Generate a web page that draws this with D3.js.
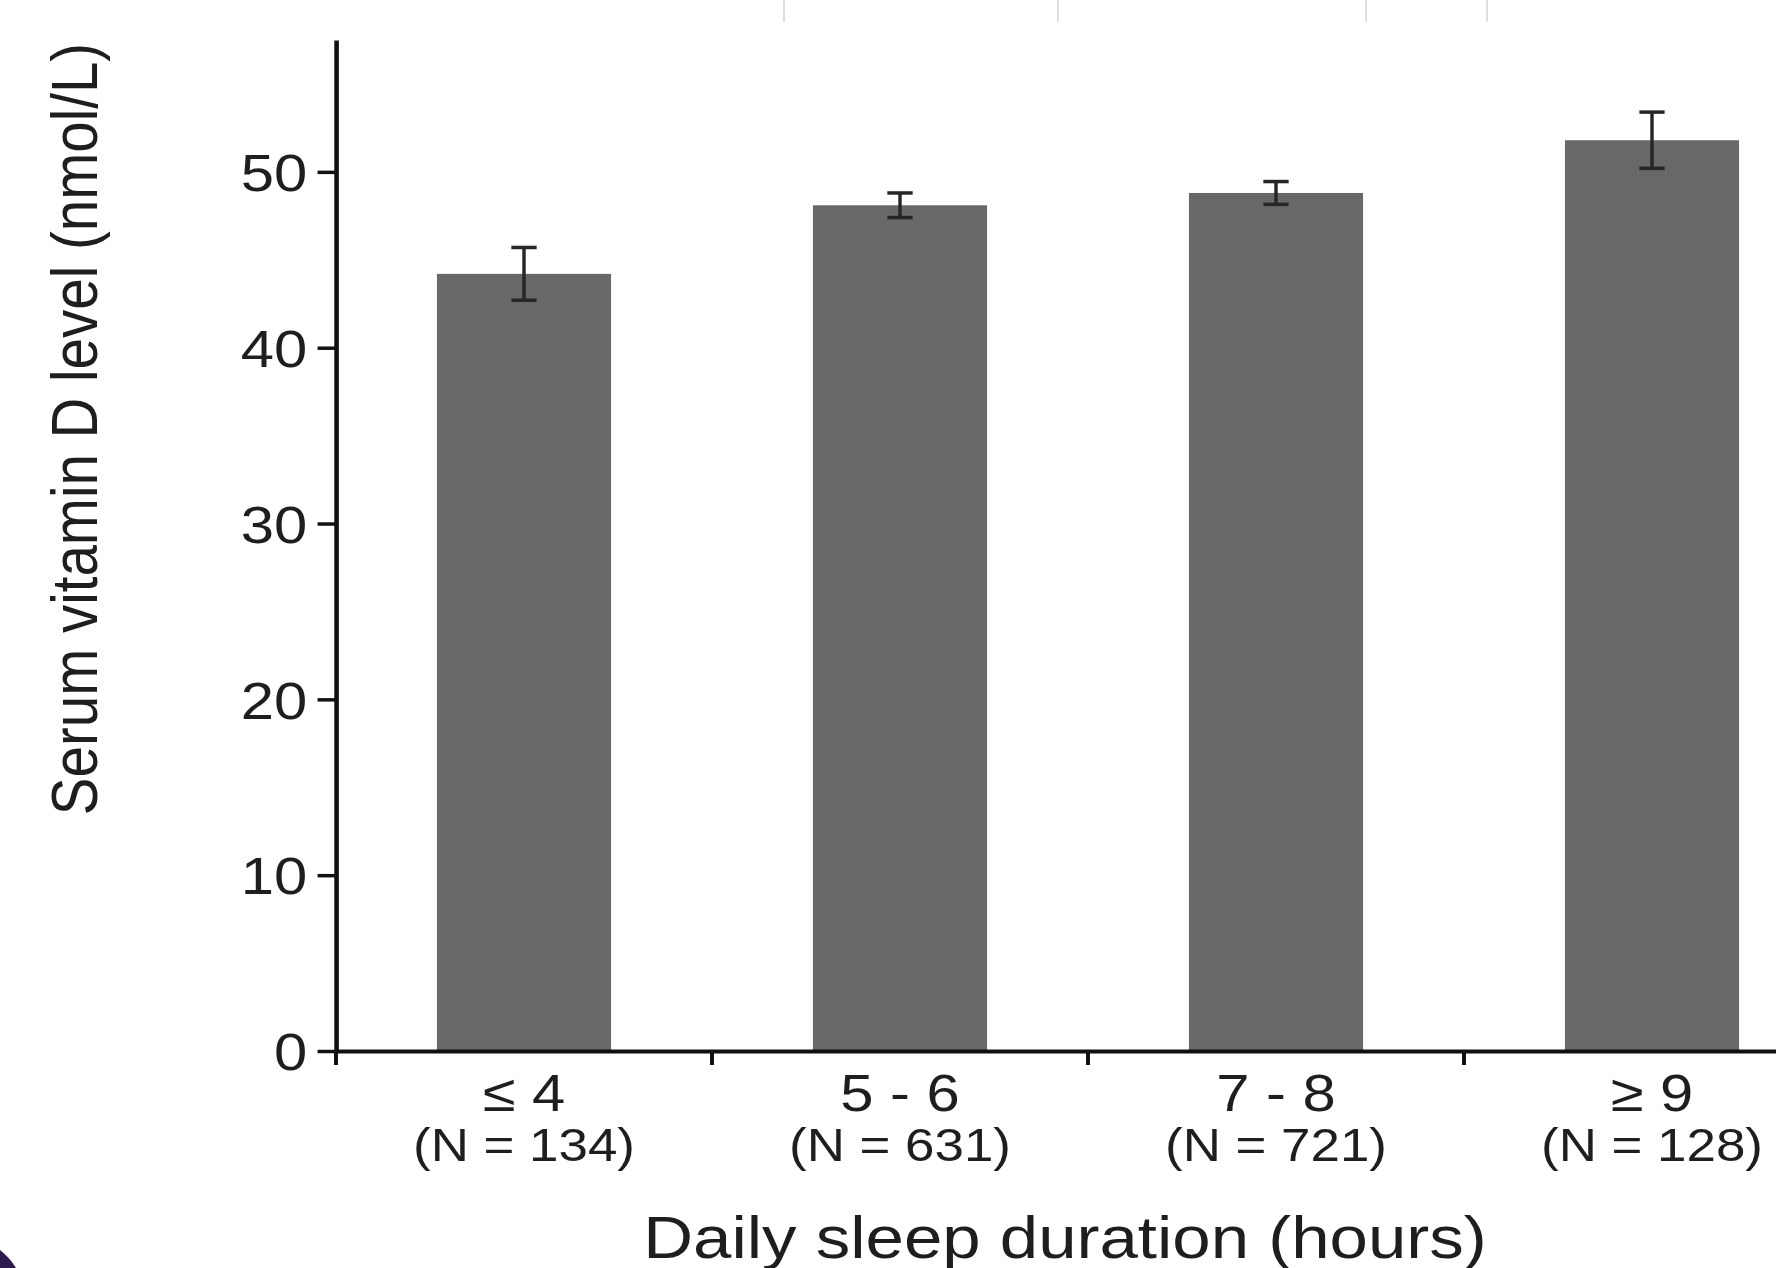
<!DOCTYPE html>
<html>
  <head>
    <title>Serum vitamin D by daily sleep duration</title>
    <script src="https://d3js.org/d3.v7.min.js"></script>
    <style>
      html, body { margin: 0; padding: 0; background: #fff; }
      svg { display: block; }
      .axis-label { font-family: "Liberation Sans", Arial, Helvetica, sans-serif; fill: #1e1e1e; }
    </style>
  </head>
  <body>
    <div id="chart"></div>
    <script>
      // Data
      const categories = ["≤ 4", "5 - 6", "7 - 8", "≥ 9"];
      const counts = [134, 631, 721, 128];
      const means = [44.2, 48.1, 48.8, 51.8];
      const errors = [1.5, 0.7, 0.65, 1.6];
      const yTicks = [0, 10, 20, 30, 40, 50];

      // the source figure is stretched sideways, so draw in a narrower box and stretch it
      const stretch = 1.15;
      const fullW = 1776, fullH = 1268;
      const W = fullW / stretch, H = fullH;
      const font = '"Liberation Sans", Arial, Helvetica, sans-serif';

      const svg = d3
        .select("#chart")
        .append("svg")
        .attr("width", fullW)
        .attr("height", fullH)
        .attr("viewBox", `0 0 ${W} ${H}`)
        .attr("preserveAspectRatio", "none");

      // scales (band range runs off the right edge, as in the cropped original)
      const x0 = 336 / stretch;
      const step = 376 / stretch;
      const x = d3
        .scaleBand()
        .domain(categories)
        .range([x0, x0 + step * categories.length])
        .padding(0);
      const y = d3.scaleLinear().domain([0, 57.5]).range([1051, 40]);
      const barW = x.bandwidth() * 0.463;

      // bars
      svg
        .selectAll("rect.bar")
        .data(categories)
        .enter()
        .append("rect")
        .attr("class", "bar")
        .attr("x", (d) => x(d) + (x.bandwidth() - barW) / 2)
        .attr("y", (d, i) => y(means[i]))
        .attr("width", barW)
        .attr("height", (d, i) => y(0) - y(means[i]))
        .attr("fill", "#686868");

      // error bars
      const capW = 22;
      const err = svg
        .selectAll("g.err")
        .data(categories)
        .enter()
        .append("g")
        .attr("class", "err")
        .attr("stroke", "#262626")
        .attr("stroke-width", 3);
      err
        .append("line")
        .attr("x1", (d) => x(d) + x.bandwidth() / 2)
        .attr("x2", (d) => x(d) + x.bandwidth() / 2)
        .attr("y1", (d, i) => y(means[i] + errors[i]))
        .attr("y2", (d, i) => y(means[i] - errors[i]));
      err
        .selectAll("line.cap")
        .data((d, i) => [
          { c: d, v: means[i] + errors[i] },
          { c: d, v: means[i] - errors[i] }
        ])
        .enter()
        .append("line")
        .attr("class", "cap")
        .attr("stroke-width", 3.5)
        .attr("x1", (d) => x(d.c) + x.bandwidth() / 2 - capW / 2)
        .attr("x2", (d) => x(d.c) + x.bandwidth() / 2 + capW / 2)
        .attr("y1", (d) => y(d.v))
        .attr("y2", (d) => y(d.v));

      // y axis
      const yAxis = svg
        .append("g")
        .attr("transform", `translate(${x0}, 0)`)
        .call(d3.axisLeft(y).tickValues(yTicks).tickSize(16).tickSizeOuter(0).tickPadding(9));
      yAxis.select(".domain").attr("stroke", "#111").attr("stroke-width", 4);
      yAxis.selectAll(".tick line").attr("stroke", "#111").attr("stroke-width", 3.5);
      yAxis
        .selectAll(".tick text")
        .attr("font-family", font)
        .attr("font-size", 52)
        .attr("fill", "#1e1e1e")
        .attr("dy", "0.36em");

      // x axis
      const xAxis = svg
        .append("g")
        .attr("transform", `translate(0, ${y(0)})`)
        .call(d3.axisBottom(x).tickSize(0).tickSizeOuter(0).tickFormat(""));
      xAxis.select(".domain").attr("stroke", "#111").attr("stroke-width", 4);

      // tick marks between the groups
      svg
        .selectAll("line.xtick")
        .data(categories)
        .enter()
        .append("line")
        .attr("class", "xtick")
        .attr("x1", (d) => x(d))
        .attr("x2", (d) => x(d))
        .attr("y1", y(0))
        .attr("y2", y(0) + 14)
        .attr("stroke", "#111")
        .attr("stroke-width", 3.5);

      // two-line category labels
      xAxis
        .selectAll(".tick")
        .each(function (d, i) {
          const t = d3.select(this);
          t.append("text")
            .attr("class", "axis-label")
            .attr("y", 60)
            .attr("text-anchor", "middle")
            .attr("font-size", 52)
            .text(categories[i]);
          t.append("text")
            .attr("class", "axis-label")
            .attr("y", 110)
            .attr("text-anchor", "middle")
            .attr("font-size", 46)
            .text(`(N = ${counts[i]})`);
        });

      // axis titles
      svg
        .append("text")
        .attr("class", "axis-label")
        .attr("x", 1065 / stretch)
        .attr("y", 1258)
        .attr("text-anchor", "middle")
        .attr("font-size", 60)
        .text("Daily sleep duration (hours)");
      svg
        .append("text")
        .attr("class", "axis-label")
        .attr("transform", `translate(${97 / stretch}, 429) rotate(-90)`)
        .attr("text-anchor", "middle")
        .attr("font-size", 56.5)
        .text("Serum vitamin D level (nmol/L)");

      // leftovers of the page the figure was cropped from
      const cropEdges = [784, 1058, 1366, 1487];
      svg
        .selectAll("line.edge")
        .data(cropEdges)
        .enter()
        .append("line")
        .attr("x1", (d) => d / stretch)
        .attr("x2", (d) => d / stretch)
        .attr("y1", 0)
        .attr("y2", 22)
        .attr("stroke", "#c8c8c8")
        .attr("stroke-width", 1);
      svg
        .append("path")
        .attr("d", `M0,${1250} Q${10 / stretch},${1258} ${16 / stretch},${1268} L0,${1268} Z`)
        .attr("fill", "#2d1b4e");
    </script>
  </body>
</html>
